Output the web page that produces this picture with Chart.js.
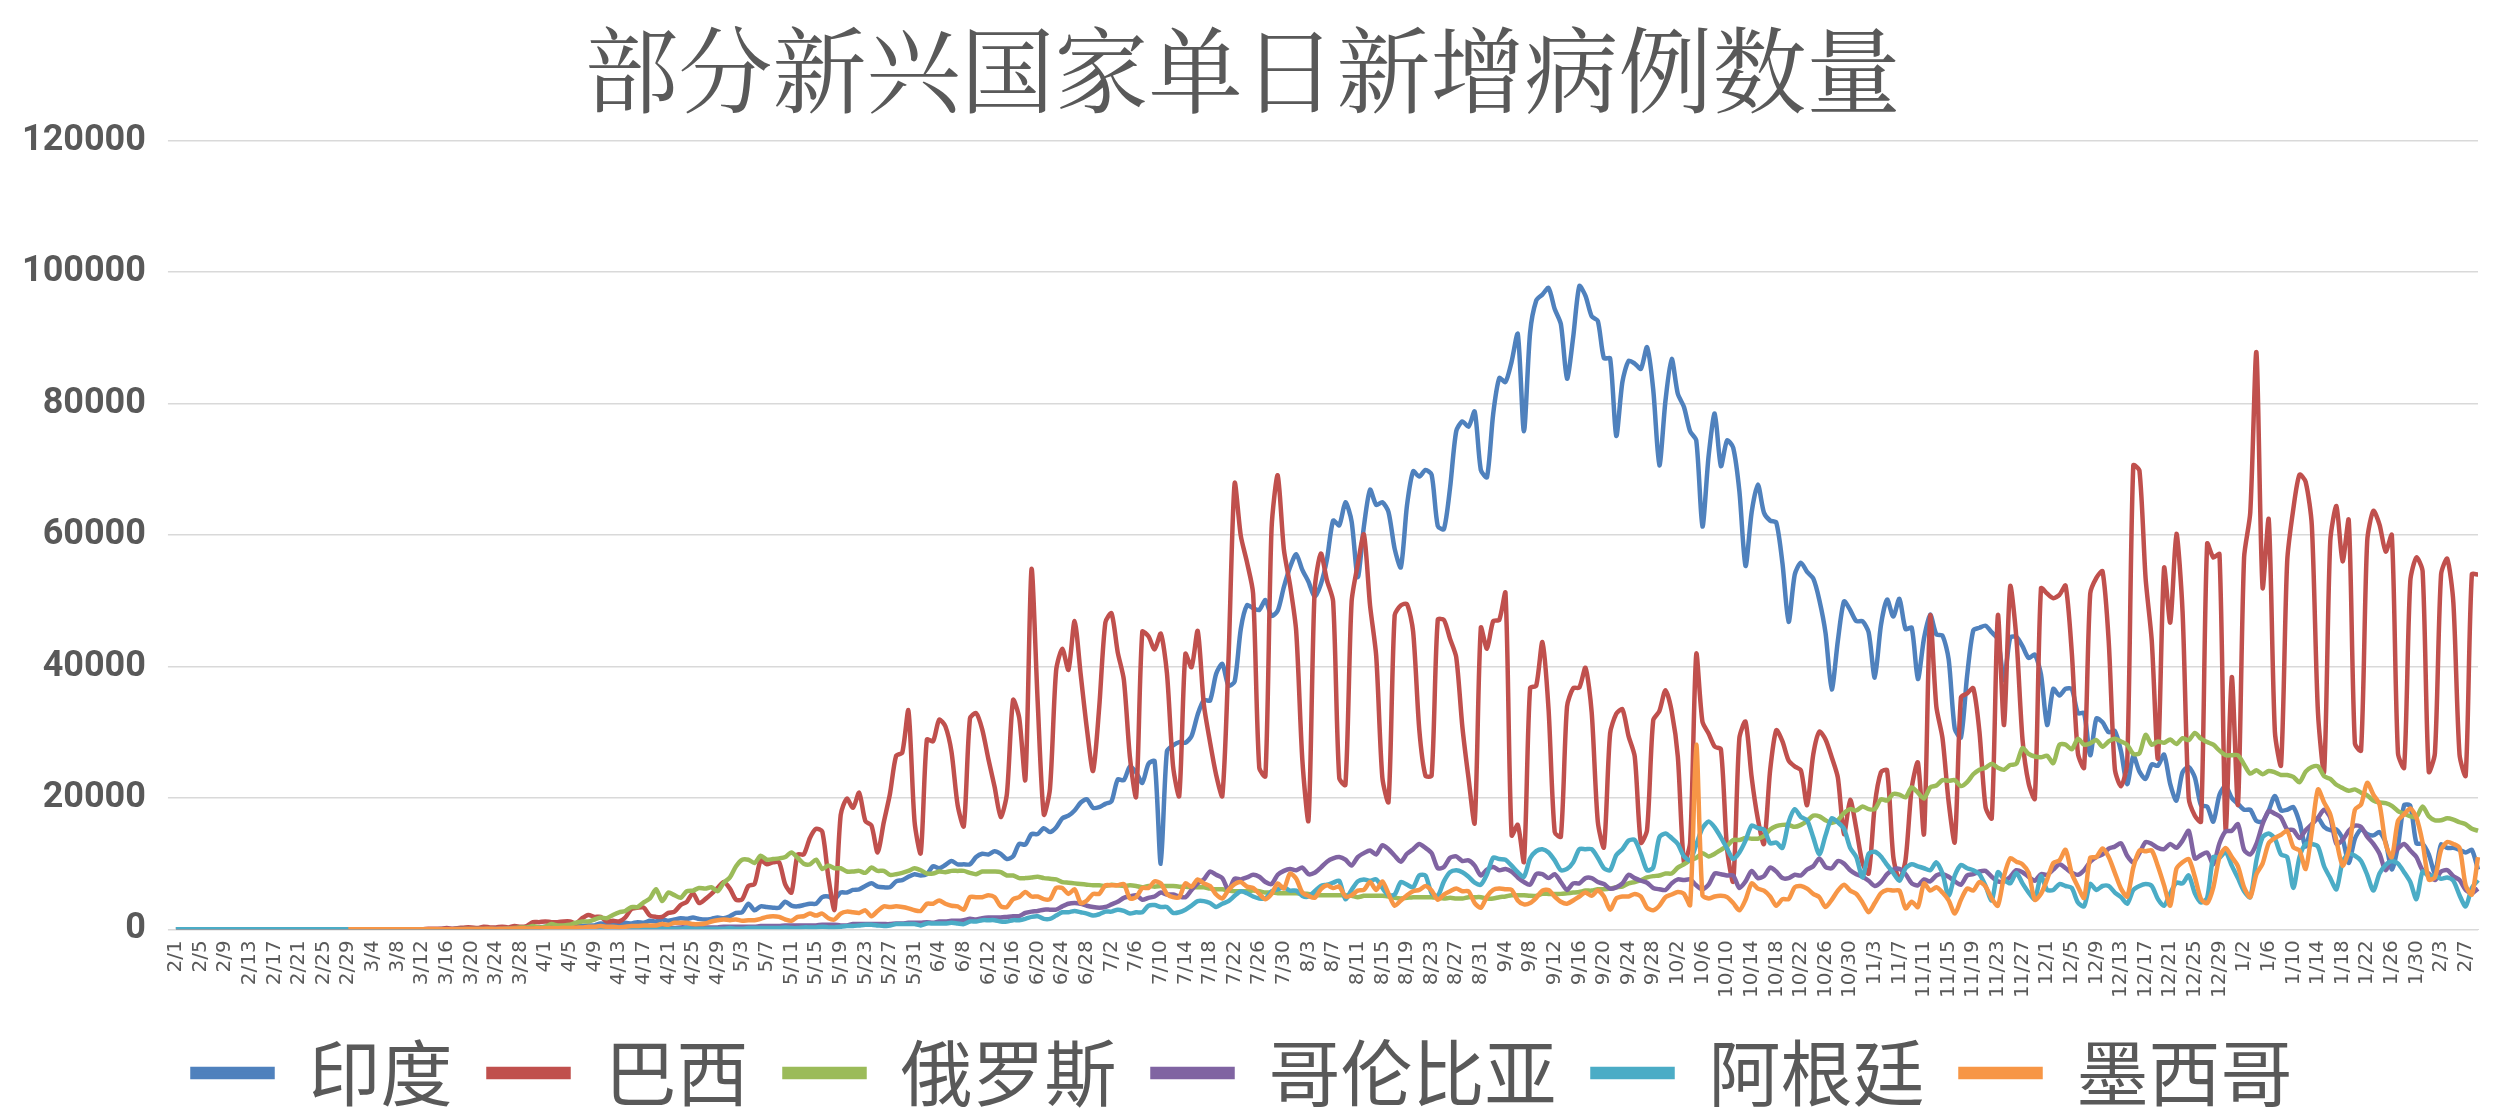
<!DOCTYPE html>
<html><head><meta charset="utf-8">
<script src="https://cdn.jsdelivr.net/npm/chart.js@4/dist/chart.umd.min.js"></script>
<style>html,body{margin:0;background:#fff}#wrap{width:2505px;height:1119px}</style>
</head><body><div id="wrap"><canvas id="c"></canvas></div>
<script>
// daily new cases, in thousands, 2020-02-01 .. 2021-02-09
var Z29 = [0,0,0,0,0,0,0,0,0,0,0,0,0,0,0,0,0,0,0,0,0,0,0,0,0,0,0,0,0];
var india = Z29.concat([
0,0,0,0,0,0,0,0,0,0,0,0,0,0,0,0,0,0,0,0.1,0.1,0.1,0.1,0.1,0.1,0.1,0.1,0.2,0.2,0.2,0.3,
0.4,0.4,0.5,0.6,0.5,0.7,0.5,0.6,0.6,0.9,0.8,0.8,0.9,1.0,0.9,1.1,1.0,1.3,1.2,1.5,1.3,1.5,1.7,1.6,1.8,1.6,1.5,1.6,1.8,1.7,
2.0,2.5,2.6,3.9,2.9,3.5,3.4,3.3,3.3,4.2,3.6,3.5,3.7,3.9,3.9,4.9,5.0,4.6,5.6,5.6,6.0,6.1,6.6,7.0,6.5,6.4,6.4,7.3,7.5,8.0,8.4,
8.2,8.4,9.6,9.3,9.8,10.4,9.9,9.9,9.9,11.0,11.5,11.4,11.9,11.5,10.7,11.1,13.0,12.9,14.5,14.5,15.4,14.8,15.5,16.9,17.3,18.1,19.3,19.8,18.5,18.6,
19.1,19.5,22.8,22.7,24.8,23.9,22.3,25.2,25.6,10.0,27.1,28.0,28.5,28.4,29.4,32.7,34.9,34.8,38.9,40.4,37.1,37.7,45.7,49.3,48.9,48.6,50.1,47.7,48.5,52.1,55.1,
57.1,54.7,52.9,50.6,52.5,56.3,62.2,61.5,65.0,62.1,53.6,61.3,66.9,64.6,65.0,63.5,57.9,55.1,64.5,69.7,68.9,69.9,69.2,61.4,60.9,67.2,75.8,77.3,76.5,78.8,69.9,
68.8,78.4,83.9,83.3,86.4,90.6,75.8,90.8,95.7,96.6,97.6,94.4,92.1,83.8,90.1,97.9,96.4,93.3,92.6,86.9,86.9,75.1,83.3,86.5,86.1,85.3,88.6,82.2,70.6,80.5,
86.8,81.5,79.5,75.8,74.4,61.3,72.0,78.5,70.5,74.4,73.3,66.7,55.3,63.5,67.7,63.4,62.2,61.9,55.7,46.8,54.0,55.8,54.4,53.4,50.1,45.1,36.5,43.9,49.9,48.6,46.9,
46.9,45.2,38.3,46.3,50.2,47.6,50.3,45.7,45.9,38.1,44.3,47.9,44.9,44.7,41.1,30.5,29.2,38.6,45.5,45.9,46.2,45.2,44.1,37.9,44.4,44.5,43.1,41.3,41.8,38.8,
31.1,36.6,35.6,36.6,36.6,32.9,32.9,26.5,32.1,31.5,30.0,30.2,27.1,22.1,26.4,24.0,22.9,25.1,24.9,26.6,22.1,19.6,23.9,24.7,23.1,18.9,18.7,16.4,20.5,21.8,20.0,
19.1,18.2,18.2,16.5,16.4,18.1,20.3,18.1,18.2,18.6,16.3,12.6,15.9,16.9,15.6,15.1,15.2,13.8,10.1,13.8,15.2,14.5,14.3,14.8,13.2,9.1,12.7,18.9,18.8,13.1,13.0,
11.4,8.6,12.9,12.4,12.4,12.1,11.7,12.1,9.1]);
var brazil = Z29.concat([
0,0,0,0,0,0,0,0,0,0,0,0,0.1,0.1,0.1,0.2,0.1,0.2,0.3,0.3,0.2,0.4,0.3,0.3,0.4,0.3,0.5,0.4,0.5,1.1,1.1,
1.2,1.1,1.1,1.2,1.2,0.9,1.7,2.2,1.9,1.9,1.2,1.3,1.2,1.8,3.1,3.3,3.3,2.1,1.9,1.9,2.5,2.7,3.7,4.2,5.5,4.0,4.6,5.4,6.3,7.2,
6.2,4.5,4.6,6.6,6.9,10.5,9.9,10.2,10.2,6.8,5.6,11.4,11.4,13.9,15.3,14.9,7.9,3.0,17.4,19.9,18.5,20.8,16.5,15.8,11.7,16.3,20.6,26.4,26.9,33.3,16.4,
11.6,28.9,28.6,31.9,30.9,27.0,18.9,15.7,32.1,32.9,30.4,25.9,21.7,17.1,20.6,34.9,32.2,22.8,54.8,34.7,17.5,21.4,39.4,42.7,39.5,46.9,38.7,30.5,24.1,33.8,
46.7,48.1,42.2,38.0,26.1,20.2,45.3,44.6,42.6,45.0,39.0,24.8,20.3,41.9,39.9,45.4,34.2,28.5,23.5,20.3,41.0,67.9,59.9,55.9,51.1,24.6,23.3,61.0,69.1,57.8,52.4,
45.4,25.8,16.6,51.6,57.2,53.1,49.9,23.0,22.0,49.8,55.5,60.1,49.3,41.6,23.1,19.4,47.8,49.3,49.5,45.3,30.4,23.4,23.4,47.1,47.1,44.2,41.4,30.8,23.0,16.2,45.9,
42.7,46.9,47.1,51.2,14.3,15.9,10.3,36.7,37.1,43.7,33.5,14.8,14.1,33.9,36.7,36.8,39.8,33.1,16.4,12.5,29.8,32.8,33.5,29.4,26.3,13.2,15.1,31.8,33.2,36.4,
33.2,26.3,10.2,13.2,41.9,31.6,29.8,27.8,27.4,12.3,7.3,29.1,31.6,23.1,16.8,13.0,24.2,30.3,28.6,25.7,24.8,24.2,18.9,26.6,30.1,28.9,26.2,23.1,14.5,19.7,15.3,
10.1,8.5,18.9,23.9,24.2,11.1,7.5,10.6,21.5,25.4,14.5,47.7,33.9,29.1,19.4,13.3,35.3,35.9,36.7,30.1,18.6,16.9,47.8,31.1,52.2,44.4,28.9,22.2,19.9,51.9,
51.1,50.4,50.9,52.3,42.2,26.8,24.6,51.1,53.5,54.5,43.9,24.4,21.8,25.2,70.6,69.8,53.4,43.9,26.0,55.0,46.7,60.2,48.4,20.0,17.3,16.4,58.7,56.6,57.1,15.1,38.4,
19.0,56.6,63.4,87.8,52.0,62.4,30.1,25.0,56.0,64.0,69.2,68.1,61.5,33.0,24.0,59.1,64.4,56.0,62.3,28.3,27.2,59.1,63.7,61.6,57.5,60.0,26.8,24.6,53.0,56.6,54.5,
24.0,26.8,54.0,56.4,49.7,26.6,23.4,54.0,54.0]);
var russia = Z29.concat([
0,0,0,0,0,0,0,0,0,0,0,0,0,0,0,0.03,0.03,0.05,0.05,0.05,0.06,0.05,0.07,0.06,0.07,0.16,0.2,0.27,0.3,0.5,0.3,
0.4,0.8,0.6,0.6,0.7,1.0,1.2,1.2,1.5,1.8,1.7,2.2,2.6,2.8,3.4,3.4,4.1,4.7,6.1,4.3,5.6,5.2,4.8,5.8,5.9,6.3,6.2,6.4,5.8,7.1,
7.9,9.6,10.6,10.6,10.1,11.2,10.6,10.7,10.8,11.0,11.7,10.9,10.0,9.9,10.6,9.2,9.7,9.3,9.3,8.8,8.8,8.9,8.6,9.4,8.9,8.9,8.3,8.4,8.6,8.9,9.3,
9.0,8.5,8.5,8.8,8.7,8.9,8.9,8.9,8.6,8.4,8.8,8.8,8.8,8.7,8.2,8.2,7.8,7.8,7.9,8.0,7.8,7.7,7.6,7.2,7.1,7.0,6.9,6.8,6.7,6.7,
6.6,6.8,6.7,6.6,6.7,6.6,6.4,6.6,6.5,6.6,6.6,6.6,6.5,6.5,6.4,6.4,6.4,6.2,6.1,6.1,5.9,5.8,5.8,5.8,5.9,5.8,5.6,5.6,5.5,5.5,5.5,
5.5,5.4,5.4,5.2,5.2,5.2,5.2,5.2,5.2,5.1,4.9,5.1,5.1,5.1,5.1,5.0,4.8,4.7,4.8,4.9,4.9,4.9,4.9,4.8,4.7,4.8,4.7,4.7,4.9,4.9,4.9,
4.7,4.7,4.9,5.0,5.2,5.2,5.2,5.1,5.1,5.4,5.4,5.4,5.4,5.5,5.6,5.7,5.9,5.9,6.1,6.1,6.2,6.4,6.5,7.0,7.2,7.5,7.9,8.1,8.2,8.5,
8.5,9.4,9.9,10.5,10.9,11.6,11.1,11.5,12.1,12.7,13.6,13.6,13.9,13.8,13.8,14.2,15.2,15.7,15.9,15.9,15.6,15.9,16.5,17.3,17.2,16.6,16.2,16.6,17.7,18.3,18.1,
18.7,18.3,18.3,19.8,19.6,20.6,20.5,20.1,21.6,20.8,19.9,21.6,21.9,22.7,22.6,22.7,21.8,22.4,23.6,24.3,24.6,25.2,24.6,24.3,25.0,25.2,27.6,26.7,26.3,26.2,
26.4,25.3,28.1,28.1,27.4,29.0,28.1,28.3,28.8,27.8,28.6,29.0,28.6,28.1,26.7,26.8,29.6,28.1,28.6,28.4,28.9,28.2,29.1,28.8,29.9,29.0,28.5,28.1,27.2,26.5,26.5,
26.5,25.1,23.7,24.2,23.6,24.1,23.9,23.5,23.5,23.2,22.4,24.0,24.7,24.8,23.3,22.9,22.0,21.5,21.1,21.3,20.8,20.4,19.6,19.3,19.2,18.8,18.0,17.6,17.2,17.1,18.7,
17.2,16.6,16.6,16.9,16.7,16.3,16.0,15.3,15.0]);
var colombia = Z29.concat([
0,0,0,0,0,0,0,0,0,0,0,0.01,0.02,0.03,0.04,0.05,0.05,0.05,0.05,0.06,0.07,0.05,0.08,0.1,0.1,0.1,0.1,0.1,0.1,0.1,0.1,
0.1,0.2,0.1,0.1,0.1,0.2,0.1,0.2,0.2,0.3,0.2,0.2,0.1,0.2,0.2,0.2,0.2,0.2,0.2,0.2,0.2,0.2,0.3,0.3,0.3,0.3,0.3,0.3,0.3,0.4,
0.4,0.4,0.4,0.4,0.4,0.5,0.5,0.5,0.5,0.6,0.6,0.6,0.6,0.6,0.6,0.7,0.7,0.7,0.6,0.6,0.8,0.8,0.8,0.8,0.8,0.8,0.8,0.9,0.9,1.0,1.0,
1.0,1.1,1.0,1.2,1.2,1.3,1.3,1.4,1.6,1.5,1.7,1.8,1.8,1.8,1.9,2.0,2.0,2.5,2.7,2.8,3.0,3.0,3.0,3.5,3.9,4.0,3.9,3.6,3.4,3.3,
3.4,3.8,4.2,4.8,5.0,5.2,4.5,4.8,5.0,5.6,5.3,5.3,5.0,4.9,6.0,7.0,7.6,8.8,8.3,7.8,6.0,7.7,7.6,7.9,8.3,8.0,7.2,6.9,8.3,8.9,9.2,
9.0,9.4,8.4,8.6,9.4,10.3,10.8,11.0,10.6,9.7,11.0,11.6,12.0,11.4,12.8,12.2,11.2,10.3,11.5,12.2,13.0,12.4,11.6,9.3,9.5,10.9,11.1,10.4,10.5,9.7,8.2,
9.1,9.5,9.0,9.2,8.8,7.9,7.2,6.8,8.4,8.4,7.8,8.4,7.2,6.0,7.0,7.0,7.8,7.8,7.2,6.9,6.2,6.4,7.0,8.3,7.8,7.4,7.1,6.3,6.1,6.0,
7.0,7.6,7.5,7.6,6.7,6.1,6.8,8.5,8.4,8.2,8.2,6.3,7.3,8.9,7.8,8.1,9.4,8.8,7.8,7.8,8.3,8.2,9.1,9.6,10.8,9.5,9.3,10.4,10.0,9.0,8.4,
8.0,7.4,6.6,7.2,8.4,9.1,9.2,8.4,7.0,6.7,7.6,7.3,8.2,8.4,8.0,7.3,6.8,8.2,8.4,8.8,8.9,8.0,7.3,7.3,8.0,9.0,8.7,8.0,7.4,8.4,
8.3,9.1,9.9,9.3,8.6,8.3,9.0,10.3,11.0,11.4,12.3,12.6,13.1,11.2,10.2,11.6,13.3,13.0,12.4,12.2,13.0,12.4,13.5,15.0,10.8,11.3,11.7,9.9,13.1,14.9,15.0,
16.0,12.1,11.4,13.0,16.0,18.0,17.6,17.0,15.2,15.1,13.9,15.1,16.0,17.0,18.2,17.0,13.0,13.6,15.0,15.8,15.6,14.1,13.0,11.5,9.0,11.3,12.3,13.0,12.0,11.0,9.0,
8.5,7.5,8.8,9.0,8.1,7.5,6.0,5.5,6.2]);
var argentina = Z29.concat([
0,0,0,0,0,0,0,0,0,0,0,0,0,0,0,0,0,0,0,0,0,0,0,0,0,0,0,0,0,0,0,
0.1,0.1,0.1,0.1,0.1,0.1,0.1,0.1,0.1,0.1,0.1,0.1,0.1,0.1,0.1,0.1,0.1,0.1,0.1,0.1,0.1,0.1,0.1,0.2,0.1,0.1,0.1,0.1,0.1,0.1,
0.2,0.1,0.1,0.2,0.2,0.2,0.2,0.2,0.2,0.3,0.2,0.2,0.3,0.3,0.3,0.4,0.3,0.3,0.4,0.5,0.5,0.6,0.7,0.7,0.6,0.5,0.6,0.8,0.8,0.8,0.8,
0.6,0.9,0.9,0.9,0.9,1.0,0.9,0.8,1.2,1.2,1.4,1.4,1.4,1.2,1.2,1.4,1.4,1.6,1.9,2.0,1.6,1.6,2.1,2.6,2.6,2.8,2.6,2.4,2.1,2.3,
2.7,2.7,3.0,2.8,2.4,2.6,2.6,3.6,3.7,3.4,3.4,2.5,2.6,3.0,3.6,4.3,4.3,4.0,3.4,3.9,4.3,5.1,5.8,5.5,5.0,4.7,4.7,5.8,6.1,6.4,5.9,
5.9,5.1,5.0,5.8,6.6,6.8,7.1,7.4,4.6,6.0,7.3,7.6,7.4,7.6,6.3,5.2,5.3,7.2,6.8,6.4,8.2,8.2,5.5,5.1,7.3,8.7,9.0,8.7,8.0,7.1,6.8,
8.4,10.9,10.7,10.6,9.7,8.7,8.0,10.8,11.9,12.2,11.7,10.5,9.0,9.2,10.2,12.2,12.2,12.2,10.9,9.3,9.0,11.3,12.2,13.5,13.6,11.5,9.0,9.4,14.0,14.6,
13.9,13.0,11.1,10.5,12.9,15.4,16.4,15.5,14.0,12.3,10.7,11.7,13.5,15.8,15.4,15.2,13.1,13.2,12.4,16.3,18.3,17.1,16.6,14.0,11.4,14.3,16.9,16.3,15.3,12.4,11.0,
7.9,11.5,11.8,11.1,9.8,8.6,7.4,9.3,9.9,9.6,9.3,9.0,10.2,8.5,5.1,8.2,9.8,9.3,9.0,8.4,6.6,4.4,8.7,7.6,7.0,8.6,7.0,5.6,4.6,8.1,
6.0,6.0,6.9,6.6,6.3,4.1,3.5,6.9,6.0,6.6,6.6,5.6,4.9,3.9,6.0,6.6,6.9,6.6,4.6,3.6,5.5,7.1,7.0,8.2,5.5,4.1,4.8,11.0,10.9,11.8,9.7,
7.8,5.8,4.9,10.5,14.0,14.6,13.8,11.4,11.0,6.3,11.0,13.0,13.0,12.6,9.6,7.8,6.1,10.3,11.5,11.2,10.4,8.3,5.9,8.5,9.8,10.4,10.0,8.7,7.2,4.6,8.8,
8.1,8.2,7.7,7.9,7.4,5.2,3.5,6.3,7.5]);
var mexico = [null,null,null,null,null,null,null,null,null,null,null,null,null,null,null,null,null,null,null,null,null,null,null,null,null,null,null,null,0,
0,0,0,0,0,0,0,0,0,0,0,0,0,0,0,0.01,0.02,0.03,0.04,0.06,0.05,0.07,0.08,0.07,0.1,0.1,0.13,0.16,0.15,0.15,0.16,
0.18,0.2,0.16,0.24,0.2,0.26,0.28,0.4,0.4,0.5,0.4,0.4,0.3,0.4,0.5,0.5,0.6,0.6,0.6,0.8,0.7,1.0,1.0,1.0,0.8,0.8,0.9,1.2,1.4,1.5,
1.4,1.5,1.3,1.4,1.4,1.6,1.9,2.0,1.9,1.5,1.3,1.9,2.0,2.4,2.1,2.4,1.7,1.5,2.4,2.7,2.6,2.5,2.9,2.0,2.8,3.5,3.4,3.5,3.4,3.2,2.9,
2.8,3.9,3.9,4.4,3.9,3.6,3.5,3.0,4.9,4.9,4.9,5.2,4.9,3.5,3.4,4.6,4.9,5.7,5.0,5.0,4.6,4.6,6.3,6.3,5.4,6.1,4.0,4.4,5.4,5.4,
6.7,6.7,6.7,6.9,4.7,4.9,6.3,6.3,7.3,7.0,5.4,4.9,4.9,7.0,6.5,7.6,7.0,6.6,5.3,4.7,6.0,6.9,7.2,6.5,6.3,5.4,4.6,5.4,7.0,6.2,8.5,
7.7,5.6,5.1,4.8,6.1,6.7,6.3,6.5,5.0,5.2,5.9,6.0,7.2,6.0,7.3,5.4,3.6,4.4,5.2,5.8,6.0,6.6,5.9,4.5,5.3,5.8,6.2,5.8,5.8,4.0,3.3,
5.0,6.0,6.2,6.1,6.0,4.4,3.8,4.0,4.8,5.9,6.0,5.0,4.2,3.9,4.4,5.0,5.6,5.1,5.9,5.0,3.0,4.7,5.0,5.0,5.4,5.0,3.3,2.9,3.6,4.9,
5.3,5.7,5.4,3.7,28.1,5.2,4.7,5.0,5.1,4.9,4.0,2.9,4.5,7.0,6.2,5.9,5.0,3.6,4.6,4.6,6.4,6.6,6.2,5.4,4.9,3.4,4.5,5.9,6.8,5.9,5.4,
4.1,2.6,4.0,5.5,6.0,5.9,5.9,3.2,4.2,3.4,7.0,5.9,6.4,5.6,4.4,2.4,4.5,6.2,5.9,7.2,6.5,4.7,3.6,8.1,10.8,10.3,9.9,8.6,4.5,5.4,
7.6,10.1,10.5,12.1,8.5,6.5,4.8,10.9,11.0,12.3,11.0,8.6,6.2,5.0,9.4,12.0,11.9,12.0,9.6,6.7,3.6,9.2,10.2,10.7,8.0,4.6,4.0,6.4,11.0,12.4,11.0,
9.6,6.4,4.9,8.4,10.0,13.1,13.9,14.4,15.0,12.5,12.0,9.2,14.9,21.3,19.3,17.5,13.5,9.7,12.0,18.2,19.0,22.3,20.5,19.0,13.0,11.0,16.5,17.5,18.4,17.0,13.2,
7.6,7.9,12.1,13.3,13.0,12.4,6.7,5.3,11.0];

var seriesNames = ['印度','巴西','俄罗斯','哥伦比亚','阿根廷','墨西哥'];
var seriesData = [india, brazil, russia, colombia, argentina, mexico];
var colors = ['#4F81BD','#C0504D','#9BBB59','#8064A2','#4BACC6','#F79646'];

// categories: every day from 2/1/2020
var labels = [];
var d = new Date(2020, 1, 1);
for (var i = 0; i < india.length; i++) {
  labels.push((d.getMonth() + 1) + '/' + d.getDate());
  d.setDate(d.getDate() + 1);
}

var datasets = seriesData.map(function (arr, k) {
  return {
    label: seriesNames[k],
    data: arr.map(function (v) { return v === null ? null : Math.round(v * 1000); }),
    borderColor: colors[k],
    backgroundColor: colors[k],
    borderWidth: 4.5,
    pointRadius: 0,
    tension: 0.25,
    order: 6 - k   // later series drawn on top
  };
});

new Chart(document.getElementById('c'), {
  type: 'line',
  data: { labels: labels, datasets: datasets },
  options: {
    responsive: true,
    maintainAspectRatio: false,
    animation: false,
    devicePixelRatio: 1,
    layout: { padding: { left: 0, right: 20, top: 10, bottom: 0 } },
    plugins: {
      title: {
        display: true,
        text: '部分新兴国家单日新增病例数量',
        color: '#595959',
        font: { family: '"Noto Serif CJK SC","Noto Sans CJK SC",serif', size: 94, weight: 'normal' },
        padding: { top: 4, bottom: 14 }
      },
      legend: {
        position: 'bottom',
        labels: {
          color: '#595959',
          font: { family: '"Noto Sans CJK SC",sans-serif', size: 72 },
          boxWidth: 80, boxHeight: 8,
          padding: 36,
          sort: function (a, b) { return a.datasetIndex - b.datasetIndex; }
        }
      },
      tooltip: { enabled: false }
    },
    scales: {
      x: {
        grid: { display: false },
        border: { color: '#D9D9D9' },
        ticks: {
          autoSkip: false, maxRotation: 90, minRotation: 90,
          color: '#595959',
          font: { family: '"DejaVu Sans",sans-serif', size: 20 },
          callback: function (v, i) { return i % 4 === 0 ? labels[i] : ''; }
        }
      },
      y: {
        min: 0, max: 120000,
        grid: { color: '#D9D9D9', lineWidth: 1.5 },
        border: { display: false },
        ticks: {
          stepSize: 20000,
          color: '#595959',
          font: { family: 'Roboto,sans-serif', size: 36, weight: 'bold' },
          padding: 22,
          callback: function (v) { return String(v); }
        }
      }
    }
  }
});
</script>
</body></html>
